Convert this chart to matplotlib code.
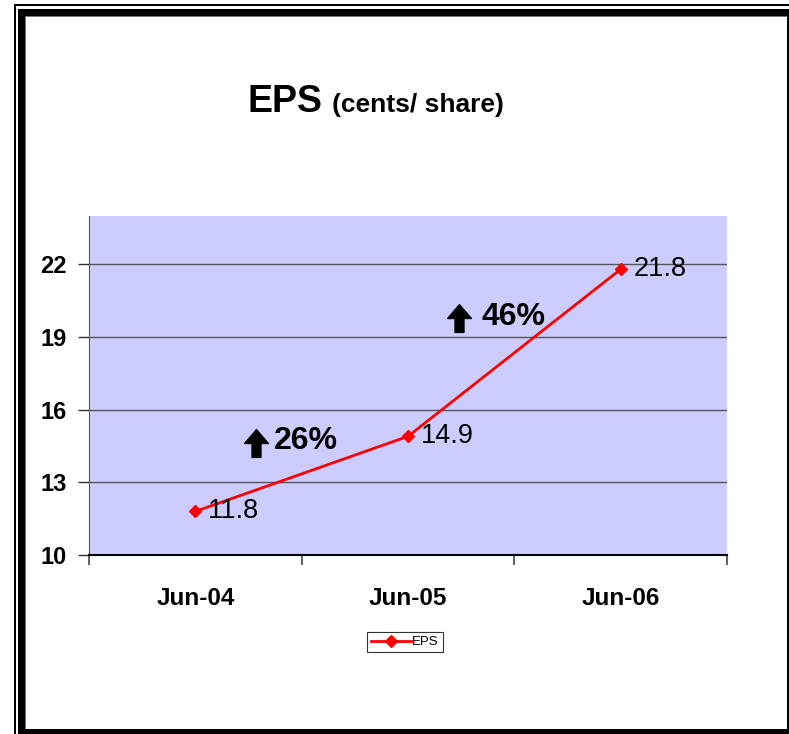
import matplotlib
matplotlib.use('Agg')
import matplotlib.pyplot as plt
from matplotlib.patches import Rectangle
from matplotlib.path import Path
from matplotlib.transforms import IdentityTransform, ScaledTranslation

# EPS figures, cents per share
periods = ['Jun-04', 'Jun-05', 'Jun-06']
eps = [11.8, 14.9, 21.8]
growth = ['26%', '46%']
yticks = [10, 13, 16, 19, 22]

plt.rcParams['font.family'] = ['Liberation Sans', 'DejaVu Sans']

W, H = 789, 734
fig = plt.figure(figsize=(W / 100, H / 100), dpi=100)
fig.patch.set_facecolor('white')

# slide border (pixel coords, y measured from top)
def band(x0, y0, x1, y1, color='black'):
    fig.add_artist(Rectangle((x0, H - y1), x1 - x0, y1 - y0, transform=IdentityTransform(),
                             facecolor=color, edgecolor='none', zorder=0))

band(14, 4, W, 5.6)      # thin outer line top
band(14, 4, 15.6, H)     # thin outer line left
band(18, 9, W, 16)       # thick frame top
band(18, 9, 25, H)       # thick frame left
band(18, 729, W, H)      # thick frame bottom
band(787, 9, W, H)       # thick frame right
band(25, 16, 26, 729, '#777777')
band(25, 16, 787, 17, '#777777')

ax = fig.add_axes([89 / W, 1 - 555 / H, 638 / W, 339 / H])
ax.set_facecolor('#CCCCFF')
x = list(range(len(periods)))
ax.plot(x, eps, color='#FF0000', lw=2, marker='D', ms=6, mec='#FF0000', mfc='#FF0000',
        label='EPS', zorder=3)

ax.set_xlim(-0.5, len(periods) - 0.5)
ax.set_ylim(10, 24)
ax.set_yticks(yticks)
ax.set_yticklabels([str(v) for v in yticks], fontsize=17, fontweight='bold')
ax.set_xticks([i - 0.5 for i in range(len(periods) + 1)])
ax.set_xticklabels([])
ax.set_xticks(x, minor=True)
ax.set_xticklabels(periods, minor=True, fontsize=17.5, fontweight='bold')
ax.tick_params(axis='x', which='minor', length=0, pad=23)
ax.tick_params(axis='x', which='major', length=7, width=1.5, color='#666666')
ax.tick_params(axis='y', length=8, width=1, color='#333333', pad=8)
ax.grid(axis='y', color='#555555', lw=1)
ax.set_axisbelow(True)
for s in ['top', 'right']:
    ax.spines[s].set_visible(False)
ax.spines['left'].set_color('#555555')
ax.spines['bottom'].set_color('black')
ax.spines['bottom'].set_linewidth(1.5)

# value labels
for xi, v in zip(x, eps):
    ax.annotate(f'{v}', (xi, v), xytext=(9, 0), textcoords='offset points',
                fontsize=19.5, va='center', ha='left')

# up-arrow shape for the growth badges
up_arrow = Path([(0, 14), (12, 0), (4.5, 0), (4.5, -14), (-4.5, -14), (-4.5, 0), (-12, 0), (0, 14)],
                [Path.MOVETO] + [Path.LINETO] * 6 + [Path.CLOSEPOLY])

# growth between periods: (arrow offset, text offset) in points
offsets = [((-33, 22.3), (-20, 23.8)), ((-40, 25.2), (-23.3, 25.9))]
for i, g in enumerate(growth):
    xm = i + 0.5
    ym = (eps[i] + eps[i + 1]) / 2
    (adx, ady), (tdx, tdy) = offsets[i]
    tr = ax.transData + ScaledTranslation(adx / 72, ady / 72, fig.dpi_scale_trans)
    ax.plot([xm], [ym], marker=up_arrow, ms=20, color='black', ls='none', transform=tr)
    ax.annotate(g, (xm, ym), xytext=(tdx, tdy), textcoords='offset points', fontsize=23,
                fontweight='bold', va='center', ha='left')

fig.text(248 / W, 1 - 112 / H, 'EPS', fontsize=27, fontweight='bold', ha='left', va='baseline')
fig.text(332 / W, 1 - 112 / H, '(cents/ share)', fontsize=19, fontweight='bold',
         ha='left', va='baseline')

leg = fig.legend(loc='center', bbox_to_anchor=(405 / W, 1 - 642 / H), fontsize=9.5,
                 frameon=True, fancybox=False, handlelength=3, borderpad=0.3,
                 handletextpad=0.1, borderaxespad=0)
leg.get_frame().set_edgecolor('black')
leg.get_frame().set_linewidth(0.8)

fig.savefig('out.png', dpi=100)
